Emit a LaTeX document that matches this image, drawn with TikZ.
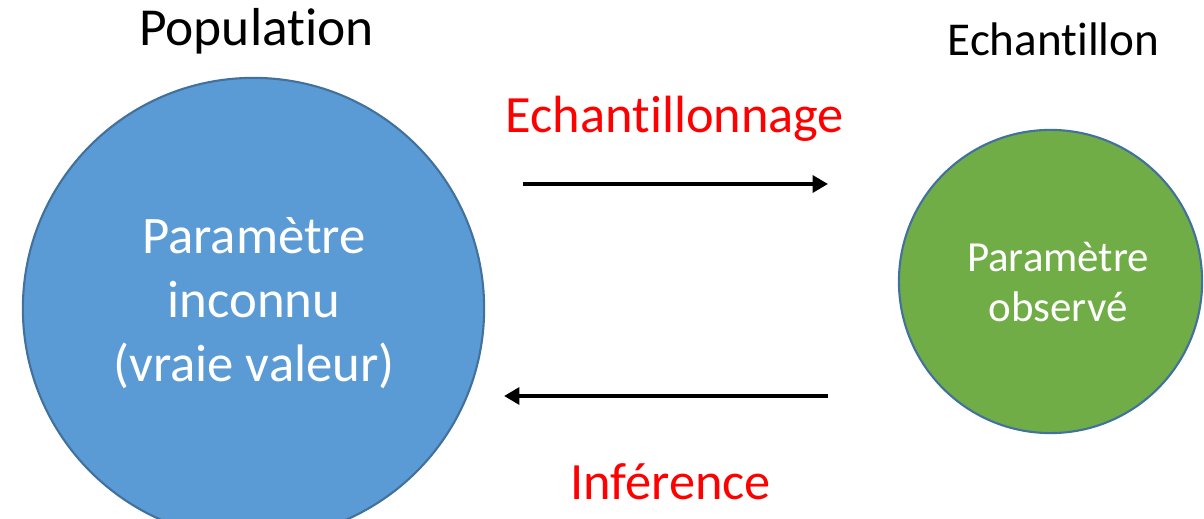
\documentclass[tikz,border=0pt]{standalone}
\usepackage{fontspec}
\setmainfont{Carlito}[Ligatures={NoCommon}]
\usetikzlibrary{arrows.meta}
\definecolor{popblue}{HTML}{5B9BD5}
\definecolor{echgreen}{HTML}{70AD47}
\definecolor{edgeblue}{HTML}{41719C}
\definecolor{labred}{HTML}{FF0000}
\tikzset{
  px/.style={x=0.01cm,y=-0.01cm},
  disc/.style={circle,draw=edgeblue,line width=0.6pt,inner sep=0pt},
  title/.style={anchor=base,inner sep=0pt,text=black},
  redlab/.style={anchor=base,inner sep=0pt,text=labred,font=\fontsize{14.9pt}{18pt}\selectfont},
  bigtxt/.style={anchor=base,inner sep=0pt,text=white,font=\fontsize{15pt}{18pt}\selectfont},
  smalltxt/.style={anchor=base,inner sep=0pt,text=white,font=\fontsize{12.2pt}{15pt}\selectfont},
  flow/.style={line width=1.15pt,-{Triangle[length=4.4pt,width=4.8pt]}}
}
\begin{document}
\begin{tikzpicture}[px]
\useasboundingbox (0,0) rectangle (1204,519);
\clip (0,0) rectangle (1204,519);
\node[disc,fill=popblue,minimum size=4.61cm] (pop) at (253.5,308.5) {};
\node[disc,fill=echgreen,minimum size=3.03cm] (ech) at (1050.5,281.5) {};
\node[title,font=\fontsize{15.2pt}{18pt}\selectfont] (poplab) at (256.5,46) {Population};
\node[title,font=\fontsize{13.4pt}{16pt}\selectfont] (echlab) at (1053.5,56) {Echantillon};
\node[redlab] (samp) at (675,133) {Echantillonnage};
\node[redlab] (inf) at (670.5,499) {Inférence};
\node[bigtxt] (p1) at (254,254) {Paramètre};
\node[bigtxt] (p2) at (254,318) {inconnu};
\node[bigtxt] (p3) at (254,382) {(vraie valeur)};
\node[smalltxt] (o1) at (1058,272) {Paramètre};
\node[smalltxt] (o2) at (1058,322) {observé};
\coordinate (a1s) at (523,184);
\coordinate (a1e) at (828,184);
\coordinate (a2s) at (828,396);
\coordinate (a2e) at (504,396);
\draw[flow] (a1s) -- (a1e);
\draw[flow] (a2s) -- (a2e);
\end{tikzpicture}
\end{document}
